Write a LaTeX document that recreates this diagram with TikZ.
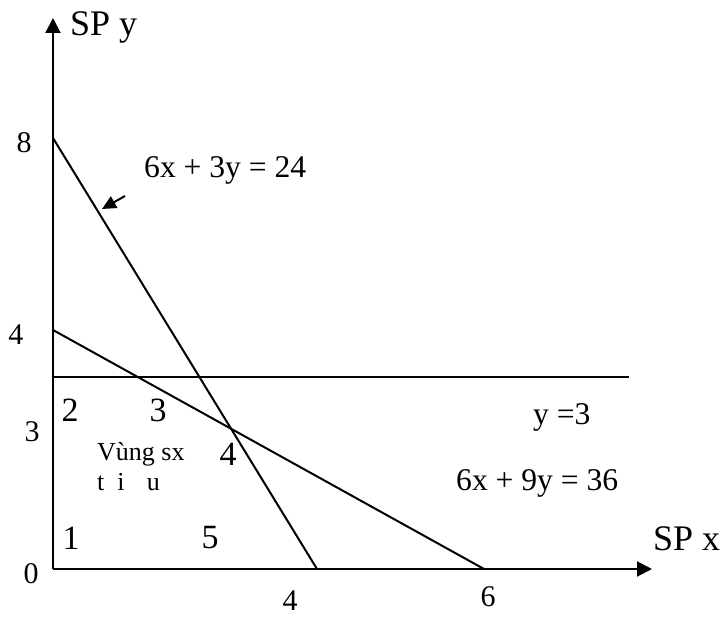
\documentclass[tikz,border=0pt]{standalone}
\usepackage{fontspec}
\setmainfont{Liberation Serif}
\usetikzlibrary{arrows.meta}

\begin{document}
\begin{tikzpicture}[x=1pt,y=-1pt,
  axis/.style={line width=2pt,-{Triangle[length=15pt,width=15pt]}},
  bound/.style={line width=2pt},
  pointer/.style={line width=2pt,-{Triangle[length=14pt,width=13pt]}},
  axlabel/.style={font=\fontsize{36}{40}\selectfont,anchor=base west,inner sep=0pt},
  eqn/.style={font=\fontsize{31.6}{36}\selectfont,anchor=base west,inner sep=0pt},
  tick/.style={font=\fontsize{30}{34}\selectfont,inner sep=0pt},
  corner/.style={font=\fontsize{34}{38}\selectfont,inner sep=0pt},
  region/.style={font=\fontsize{26}{30}\selectfont,anchor=base west,inner sep=0pt}]
\useasboundingbox (0,0) rectangle (724,618);
% Trục toạ độ
\coordinate (O) at (53,569);
\coordinate (Ytop) at (53,18);
\coordinate (Xend) at (652,569);
\draw[axis] (O) -- (Ytop);
\draw[axis] (O) -- (Xend);
\node[axlabel] (spy) at (70,36) {SP y};
\node[axlabel] (spx) at (653,550) {SP x};
% Các đường ràng buộc
\coordinate (A8) at (53,138);
\coordinate (B4) at (317,569);
\coordinate (A4) at (53,330);
\coordinate (B6) at (484,569);
\coordinate (A3) at (53,377);
\coordinate (C3) at (629,377);
\draw[bound] (A8) -- (B4);
\draw[bound] (A4) -- (B6);
\draw[bound] (A3) -- (C3);
\coordinate (tail) at (125,196);
\coordinate (head) at (102,209);
\draw[pointer] (tail) -- (head);
\node[eqn] (eq1) at (144,177) {6x + 3y = 24};
\node[eqn] (eq2) at (456,490) {6x + 9y = 36};
\node[eqn] (eq3) at (533,424) {y =3};
% Số trên trục
\node[tick] (t8) at (24,143) {8};
\node[tick] (t4y) at (16,335) {4};
\node[tick] (t3y) at (32,432) {3};
\node[tick] (t0) at (31,574) {0};
\node[tick] (t4x) at (290,601) {4};
\node[tick] (t6x) at (488,597) {6};
% Các đỉnh và vùng
\node[corner] (p1) at (71,538) {1};
\node[corner] (p2) at (70,410) {2};
\node[corner] (p3) at (158,410) {3};
\node[corner] (p4) at (228,454) {4};
\node[corner] (p5) at (210,538) {5};
\node[region] (vung) at (97,460) {Vùng sx};
\node[region] (toiuu) at (97,490) {t\hspace{0.5em}i\hspace{0.85em}u};
\end{tikzpicture}
\end{document}
